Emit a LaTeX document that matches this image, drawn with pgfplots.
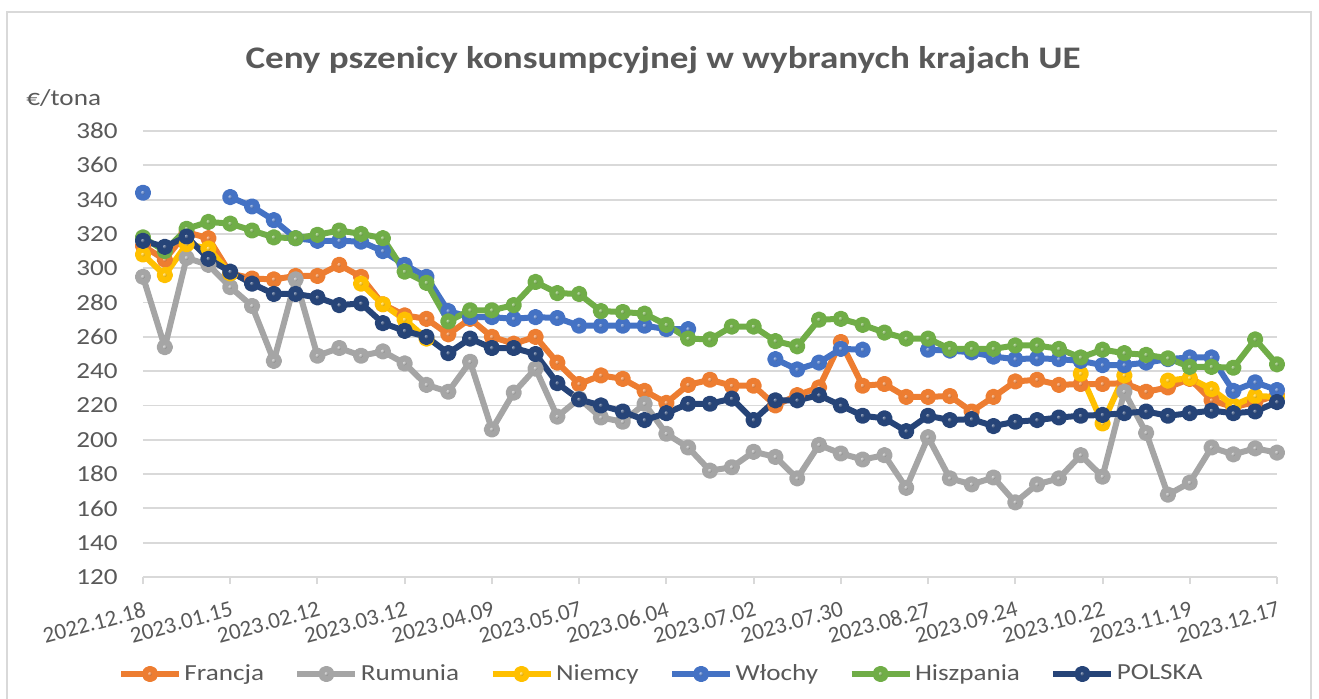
\documentclass[border=0pt]{standalone}
\usepackage{fontspec}
\setmainfont{Carlito}
\usepackage{pgfplots}
\pgfplotsset{compat=1.18}
\usepackage{pgfplotstable}
\usetikzlibrary{shadings}

\definecolor{francja}{HTML}{ED7D31}
\definecolor{rumunia}{HTML}{A5A5A5}
\definecolor{niemcy}{HTML}{FFC000}
\definecolor{wlochy}{HTML}{4472C4}
\definecolor{hiszpania}{HTML}{70AD47}
\definecolor{polska}{HTML}{264478}
\definecolor{txt}{HTML}{595959}
\definecolor{gridc}{HTML}{D9D9D9}

% the reference text is a little wider than tall
\newcommand{\sx}[1]{\scalebox{1.18}[1]{#1}}

% weekly prices, EUR/t; week 0 = 2022.12.18
\pgfplotstableread{
i  F     R     N     W     H     P
0  313   295   308   344   318   316
1  305   254   296   nan   310   312.5
2  321   306   314   nan   323   318.5
3  317.5 302   311.5 nan   327   305.5
4  297   289   297   341.5 326   298
5  294   278   nan   336   322   291
6  293.5 246   nan   328   318   285
7  295.5 293.5 nan   317.5 317.5 285
8  295.5 249   nan   316   319.5 283
9  302   253.5 nan   316   322   278.5
10 295   249   291   315.5 320   279.5
11 279   251.5 279   310   317.5 268
12 272.5 244.5 270   302   298   263.5
13 270.5 232   259   295   291.5 260
14 261.5 228   nan   275   269   250.5
15 270.5 245.5 nan   271.5 275.5 259
16 260   206   nan   271.5 275.5 253.5
17 256   227.5 nan   270.5 278.5 253.5
18 260   241.5 nan   271.5 292   250
19 245   213.5 nan   271   285.5 233
20 232.5 224   nan   266.5 285   223.5
21 237.5 213   nan   266.5 275   220
22 235.5 210.5 nan   266.5 274.5 216.5
23 228.5 221   nan   266.5 273.5 211.5
24 221.5 203.5 nan   264.5 267   215.5
25 232   195.5 nan   264.5 259   221
26 235   182   nan   nan   258.5 221
27 231.5 184   nan   nan   266   224
28 231.5 193   nan   nan   266   211.5
29 220   190   nan   247   257.5 223
30 226   177.5 nan   241   254.5 223
31 230.5 197   nan   245   270   226
32 257   192   nan   253   270.5 220
33 231.5 188.5 nan   252.5 267   214
34 232.5 191   nan   nan   262.5 212.5
35 225   172   nan   nan   259   205
36 225   201.5 nan   252.5 259   214
37 225.5 177.5 nan   252   253   211.5
38 216.5 174   nan   251   253   212
39 225   178   nan   248.5 253   208
40 234   163.5 nan   247   255   210.5
41 235   174   nan   247.5 255   211.5
42 232   177.5 nan   247   253   213
43 232.5 191   238.5 246   248   214
44 232.5 178.5 209.5 243.5 252.5 214.5
45 233   228   237.5 243.5 250.5 215.5
46 228   204   nan   245   249.5 216.5
47 230.5 168   234.5 247   247.5 214
48 235.5 175   236   248   242.5 215.5
49 223   195.5 229.5 248   242.5 217
50 219   191.5 220   228.5 242   215.5
51 222   195   225.5 233.5 258.5 216.5
52 226   192.5 225   229   244   222
}\prices

\begin{document}
\begin{tikzpicture}
\begin{axis}[
  at={(0,0)}, anchor=south west,
  scale only axis, width=567pt, height=223pt,
  xmin=0, xmax=52, ymin=120, ymax=380,
  clip=false,
  unbounded coords=jump,
  font=\fontsize{11.5}{13}\selectfont,
  /pgf/number format/assume math mode=true,
  axis x line*=bottom, axis y line*=left,
  y axis line style={draw=none},
  x axis line style={draw=gridc, line width=1pt, -},
  ytick={120,140,...,380},
  ytick style={draw=none},
  yticklabel={\sx{\pgfmathprintnumber{\tick}}},
  yticklabel style={text=txt, anchor=east, inner sep=0pt},
  yticklabel shift=9pt,
  xtick={0,4,...,52},
  xticklabels={2022.12.18,2023.01.15,2023.02.12,2023.03.12,2023.04.09,2023.05.07,
    2023.06.04,2023.07.02,2023.07.30,2023.08.27,2023.09.24,2023.10.22,2023.11.19,2023.12.17},
  xtick style={draw=gridc, line width=1pt},
  xticklabel style={text=txt, rotate=15, anchor=north east, inner sep=0pt,
    font=\fontsize{11.5}{13}\selectfont},
  xticklabel shift=8.5pt,
  tick align=outside,
  major tick length=3.5pt,
  ymajorgrids,
  grid style={draw=gridc, line width=0.9pt},
  every axis plot/.append style={line width=3pt, line join=round, mark=ball, mark size=2.6pt},
  legend columns=6,
  legend image code/.code={\draw[mark repeat=2, mark phase=2, #1]
    plot coordinates {(0pt,0pt) (14.5pt,0pt) (29pt,0pt)};},
  legend style={draw=none, fill=none, at={(0.4572,0)}, anchor=center, yshift=-48.5pt,
    text=txt, font=\fontsize{11.5}{13}\selectfont, nodes={inner xsep=1.2pt},
    /tikz/every even column/.append style={column sep=14pt}},
  legend cell align=left,
]
\addplot[color=francja, mark options={ball color=francja}] table[x=i, y=F] {\prices};
\addlegendentry{\sx{Francja}}
\addplot[color=rumunia, mark options={ball color=rumunia}] table[x=i, y=R] {\prices};
\addlegendentry{\sx{Rumunia}}
\addplot[color=niemcy, mark options={ball color=niemcy}] table[x=i, y=N] {\prices};
\addlegendentry{\sx{Niemcy}}
\addplot[color=wlochy, mark options={ball color=wlochy}] table[x=i, y=W] {\prices};
\addlegendentry{\sx{Włochy}}
\addplot[color=hiszpania, mark options={ball color=hiszpania}] table[x=i, y=H] {\prices};
\addlegendentry{\sx{Hiszpania}}
\addplot[color=polska, mark options={ball color=polska}] table[x=i, y=P] {\prices};
\addlegendentry{\sx{POLSKA}}

\node[anchor=base, text=txt, font=\fontsize{15.7}{18}\selectfont\bfseries]
  at (rel axis cs:0.4586,1) [yshift=31.5pt] {\sx{Ceny pszenicy konsumpcyjnej w wybranych krajach UE}};
\node[anchor=base west, text=txt, inner sep=0pt]
  at (rel axis cs:0,1) [xshift=-58.5pt, yshift=13pt] {\sx{€/tona}};
\end{axis}
\pgfresetboundingbox
\path[use as bounding box] (-71.5pt,-60.5pt) rectangle (588pt,288.5pt);
\draw[gridc, line width=1pt] (-68.2pt,-65pt) -- (-68.2pt,282.7pt) -- (584pt,282.7pt) -- (584pt,-65pt);
\end{tikzpicture}
\end{document}
